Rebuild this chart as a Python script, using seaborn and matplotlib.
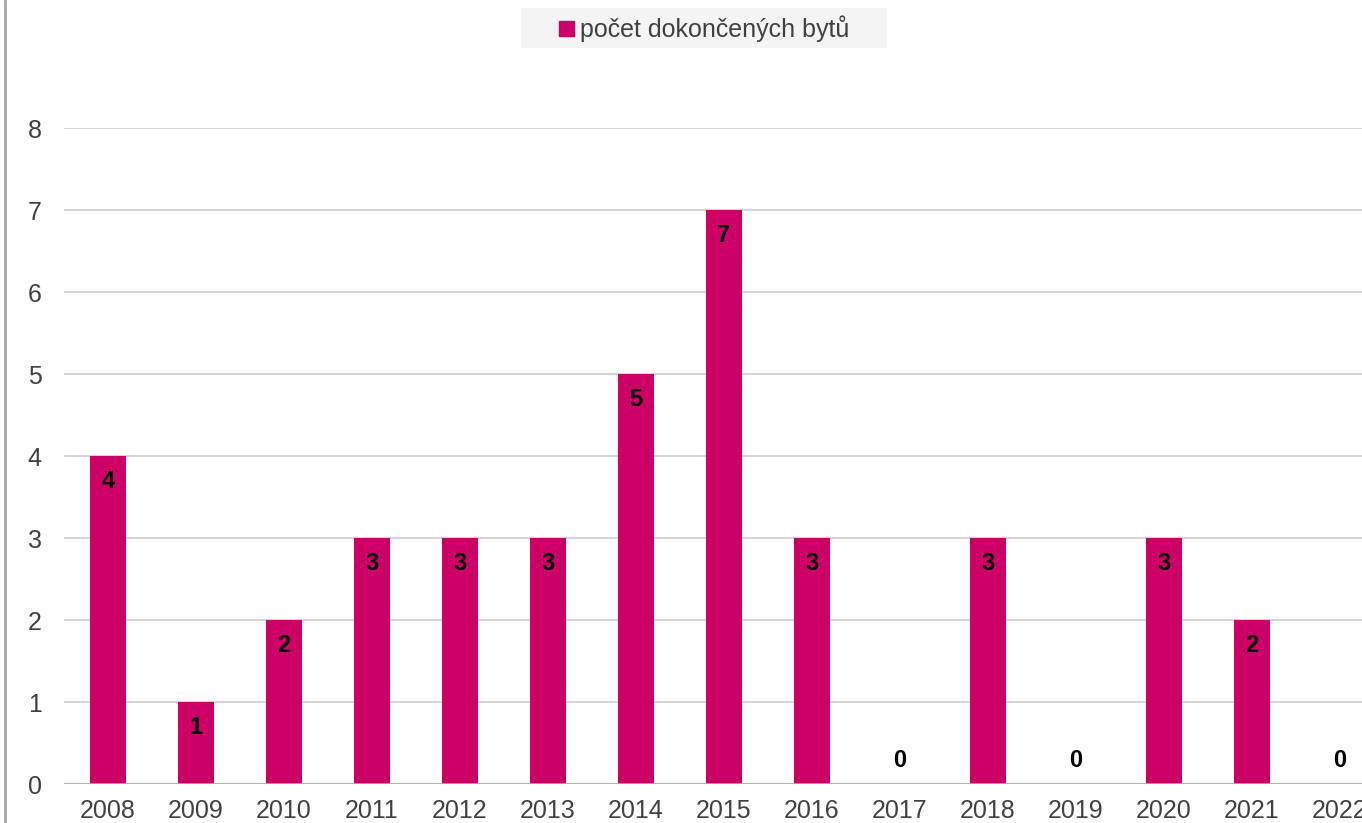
import matplotlib
matplotlib.use("Agg")
import matplotlib.pyplot as plt
import seaborn as sns
import pandas as pd
from matplotlib.lines import Line2D
from matplotlib.patches import Rectangle

years = ["2008", "2009", "2010", "2011", "2012", "2013", "2014", "2015",
         "2016", "2017", "2018", "2019", "2020", "2021", "2022"]
flats = [4, 1, 2, 3, 3, 3, 5, 7, 3, 0, 3, 0, 3, 2, 0]
series_name = "počet dokončených bytů"
yticks = [0, 1, 2, 3, 4, 5, 6, 7, 8]

BAR = "#CC0066"
TXT = "#404040"

sns.set_style("white")
plt.rcParams["font.family"] = ["Liberation Sans", "DejaVu Sans"]

df = pd.DataFrame({"rok": years, "byty": flats})

fig = plt.figure(figsize=(13.62, 8.23), dpi=100)
W, H = 1362, 823
ax = fig.add_axes([64 / W, 39 / H, 1320 / W, 656 / H])

sns.barplot(data=df, x="rok", y="byty", color=BAR, width=0.41,
            saturation=1, ax=ax, zorder=3, linewidth=0)

ax.set_xlim(-0.5, len(years) - 0.5)
ax.set_ylim(0, 8)
ax.set_yticks(yticks)
ax.set_xlabel("")
ax.set_ylabel("")
for s in ax.spines.values():
    s.set_visible(False)
ax.axhline(0, color="#a6a6a6", lw=2, zorder=4)
for t in yticks[1:]:
    ax.axhline(t, color="#d0d0d0", lw=1.3, zorder=1)
ax.tick_params(axis="both", length=0, labelsize=18, colors=TXT)
ax.tick_params(axis="y", pad=16)
ax.tick_params(axis="x", pad=11)

for i, v in enumerate(flats):
    off = -18 if v > 0 else 17
    ax.annotate(str(v), xy=(i, v), xytext=(0, off), textcoords="offset points",
                ha="center", va="center", fontsize=17, fontweight="bold",
                color="black", zorder=5)

# legend background box (wider than matplotlib's own frame)
fig.add_artist(Rectangle((521 / W, 1 - 48 / H), 366 / W, 40 / H,
                         transform=fig.transFigure, facecolor="#f4f4f4",
                         edgecolor="none", zorder=0))
handle = Rectangle((0, 0), 1, 1, color=BAR)
leg = fig.legend([handle], [series_name], loc="center",
                 bbox_to_anchor=(704 / W, 1 - 29 / H), fontsize=18,
                 frameon=False, handlelength=0.6, handleheight=0.6,
                 handletextpad=0.25, borderpad=0.3, borderaxespad=0)
for t in leg.get_texts():
    t.set_color(TXT)

fig.add_artist(Line2D([5 / W, 5 / W], [0, 1], color="#a6a6a6", lw=2,
                      transform=fig.transFigure))

fig.savefig("out.png", dpi=100)
